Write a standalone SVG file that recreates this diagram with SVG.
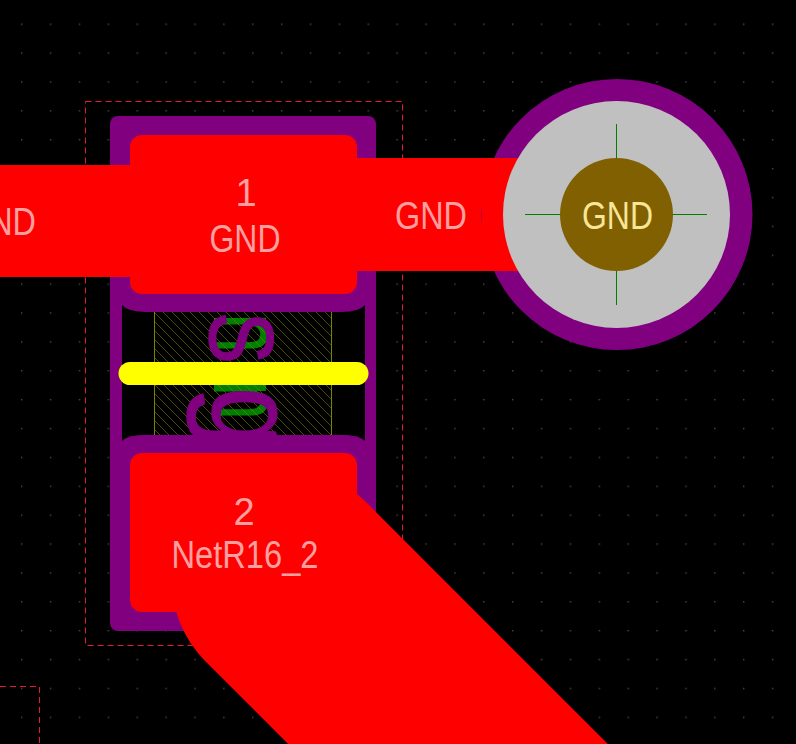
<svg xmlns="http://www.w3.org/2000/svg" width="796" height="744" viewBox="0 0 796 744">
<style>
.lbl{font-family:"Liberation Sans",Arial,sans-serif;font-size:38px;fill:#ffa0a0;text-anchor:middle}
.hole{fill:#f8e598}
.silk{font-family:"Liberation Sans",Arial,sans-serif;font-size:98px;fill:#008000}
.top{font-family:"Liberation Sans",Arial,sans-serif;fill:#800080;stroke:#800080;stroke-width:1.5}
.court{fill:none;stroke:#e6193c;stroke-width:1;stroke-dasharray:6 4}
.trk{stroke:#f00;fill:none}
.pad{fill:#f00}
</style>
<defs>
<pattern id="grid" x="21" y="23.5" width="28.88" height="28.88" patternUnits="userSpaceOnUse">
<rect x="0" y="0" width="1.4" height="1.4" fill="#4a4a4a"/>
</pattern>
<pattern id="hatch" x="154" y="312" width="9" height="9" patternUnits="userSpaceOnUse">
<path d="M-1 -1L10 10" stroke="#808000" stroke-width=".6" fill="none"/>
</pattern>
</defs>
<rect width="796" height="744" fill="#000"/>
<rect width="796" height="744" fill="url(#grid)"/>
<g id="courtyard">
<rect class="court" x="85.5" y="101.5" width="317" height="544"/>
<path class="court" d="M0 686.5H39.5V744"/>
</g>
<g id="R16">
<rect x="110" y="116" width="266" height="515" rx="8" fill="#800080"/>
<path d="M122 305Q128 312 146 312H341Q359 312 365 305V441Q359 435 341 435H146Q128 435 122 441Z" fill="#000"/>
<text class="silk" transform="translate(214 313) rotate(90) scale(.74 1)">n</text>
<text class="silk" transform="translate(214 380) rotate(90) scale(.74 1)">n</text>
<rect x="154.500" y="312" width="177" height="123" fill="url(#hatch)" stroke="none"/>
<path d="M154.500 312V435M331.500 312V435" stroke="#808000" fill="none"/>
<text class="top" font-size="90" transform="translate(210 312) rotate(90) scale(.86 1)">S</text>
<text class="top" font-size="120" transform="translate(212 387) rotate(90) scale(.92 1)">g</text>
<path d="M122 441Q128 435 146 435H341Q359 435 365 441V455H122Z" fill="#800080"/>
</g>
<g id="connectors">
<path class="trk" stroke-width="112" d="M0 221H244"/>
<path class="trk" stroke-width="113" d="M244 214.500H617"/>
<path class="trk" stroke-width="226" stroke-linecap="round" d="M285 581L585 881"/>
</g>
<g id="pad1">
<rect class="pad" x="130" y="135" width="227" height="159" rx="12"/>
<text class="lbl" x="246" y="206">1</text>
<text class="lbl" x="245" y="252" textLength="71" lengthAdjust="spacingAndGlyphs">GND</text>
</g>
<g id="pad2">
<rect class="pad" x="130" y="453" width="227" height="159" rx="12"/>
<text class="lbl" x="244" y="525">2</text>
<text class="lbl" x="245" y="568" textLength="147" lengthAdjust="spacingAndGlyphs">NetR16_2</text>
</g>
<g id="outline">
<path d="M130 373.500H357" stroke="#ff0" stroke-width="23" stroke-linecap="round" fill="none"/>
</g>
<g id="via">
<circle cx="617" cy="214.500" r="135.500" fill="#800080"/>
<rect x="482" y="158" width="40" height="113" fill="#f00"/>
<circle cx="616.500" cy="214.500" r="113.500" fill="#c0c0c0"/>
<path d="M616.500 124V305M525 214.500H707" stroke="#008000" fill="none"/>
<circle cx="616.500" cy="214.500" r="56.500" fill="#806000"/>
<text class="lbl hole" x="617.500" y="229" textLength="71" lengthAdjust="spacingAndGlyphs">GND</text>
</g>
<g id="track-labels">
<text class="lbl" x="431" y="229" textLength="72" lengthAdjust="spacingAndGlyphs">GND</text>
<text class="lbl" x="0" y="235" textLength="72" lengthAdjust="spacingAndGlyphs">GND</text>
</g>
</svg>
